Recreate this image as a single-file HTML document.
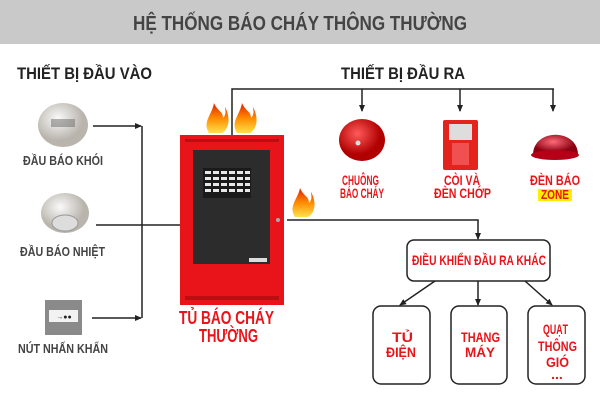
<!DOCTYPE html>
<html><head><meta charset="utf-8"><style>
body{margin:0;width:600px;height:400px;background:#fff;overflow:hidden;font-family:"Liberation Sans",sans-serif}
</style></head><body>
<svg width="600" height="400" viewBox="0 0 600 400" xmlns="http://www.w3.org/2000/svg" font-family="Liberation Sans, sans-serif" font-weight="bold">
<defs>
<marker id="a" markerUnits="userSpaceOnUse" markerWidth="7" markerHeight="7" refX="6" refY="3.5" orient="auto"><path d="M0,0.5 L7,3.5 L0,6.5z" fill="#222"/></marker>
<radialGradient id="bell" cx="40%" cy="35%"><stop offset="0" stop-color="#ff5a5a"/><stop offset="1" stop-color="#b00000"/></radialGradient>
<radialGradient id="dome" cx="45%" cy="35%"><stop offset="0" stop-color="#ff6a7a"/><stop offset="1" stop-color="#8a0010"/></radialGradient>
<radialGradient id="det" cx="40%" cy="35%"><stop offset="0" stop-color="#fafafa"/><stop offset="1" stop-color="#b9b5ad"/></radialGradient>
<linearGradient id="fl" x1="0" y1="1" x2="0" y2="0"><stop offset="0" stop-color="#ffe04a"/><stop offset="0.5" stop-color="#ff8a00"/><stop offset="1" stop-color="#e02000"/></linearGradient>
</defs>
<rect x="0" y="0" width="600" height="44" fill="#c9c9c9"/>
<text x="133" y="30" font-size="20" fill="#444" textLength="334" lengthAdjust="spacingAndGlyphs">HỆ THỐNG BÁO CHÁY THÔNG THƯỜNG</text>
<text x="17" y="79" font-size="17" fill="#222" textLength="135" lengthAdjust="spacingAndGlyphs">THIẾT BỊ ĐẦU VÀO</text>
<text x="341" y="79" font-size="17" fill="#222" textLength="124" lengthAdjust="spacingAndGlyphs">THIẾT BỊ ĐẦU RA</text>
<g stroke="#222" stroke-width="1.5" fill="none">
<polyline points="232,135 232,89 554,89"/>
<line x1="362" y1="89" x2="362" y2="111" marker-end="url(#a)"/>
<line x1="460" y1="89" x2="460" y2="111" marker-end="url(#a)"/>
<line x1="553" y1="89" x2="553" y2="111" marker-end="url(#a)"/>
<line x1="93" y1="126" x2="141" y2="126" marker-end="url(#a)"/>
<line x1="92" y1="318" x2="141" y2="318" marker-end="url(#a)"/>
<line x1="142" y1="126" x2="142" y2="318"/>
<line x1="96" y1="225" x2="180" y2="225"/>
<polyline points="287,220 478,220 478,239" marker-end="url(#a)"/>
<line x1="435" y1="281" x2="400" y2="305" marker-end="url(#a)"/>
<line x1="478" y1="281" x2="478" y2="305" marker-end="url(#a)"/>
<line x1="525" y1="281" x2="552" y2="305" marker-end="url(#a)"/>
</g>
<g fill="url(#fl)">
<path d="M209,133 C202,122 212,115 214,103 C218,112 223,111 223,118 C227,114 225,109 225,107 C231,118 229,129 222,133z"/>
<path d="M237,133 C230,122 240,115 242,103 C246,112 251,111 251,118 C255,114 253,109 253,107 C259,118 257,129 250,133z"/>
<path d="M295,217 C288,206 298,199 300,188 C304,197 309,196 309,203 C313,199 311,194 311,192 C317,203 315,213 308,217z"/>
</g>
<rect x="180" y="135" width="104" height="170" fill="#e8141a"/>
<rect x="193" y="150" width="77" height="114" fill="#2c2c2c"/>
<rect x="203" y="168" width="48" height="30" fill="#1a1a1a"/>
<g fill="#e8e8e8">
<rect x="205" y="171" width="6" height="3"/><rect x="213" y="171" width="6" height="3"/><rect x="221" y="171" width="6" height="3"/><rect x="229" y="171" width="6" height="3"/><rect x="237" y="171" width="6" height="3"/><rect x="245" y="171" width="5" height="3"/>
<rect x="205" y="177" width="6" height="3"/><rect x="213" y="177" width="6" height="3"/><rect x="221" y="177" width="6" height="3"/><rect x="229" y="177" width="6" height="3"/><rect x="237" y="177" width="6" height="3"/><rect x="245" y="177" width="5" height="3"/>
<rect x="205" y="183" width="6" height="3"/><rect x="213" y="183" width="6" height="3"/><rect x="221" y="183" width="6" height="3"/><rect x="229" y="183" width="6" height="3"/><rect x="237" y="183" width="6" height="3"/><rect x="245" y="183" width="5" height="3"/>
<rect x="205" y="189" width="6" height="3"/><rect x="213" y="189" width="6" height="3"/><rect x="221" y="189" width="6" height="3"/><rect x="229" y="189" width="6" height="3"/><rect x="237" y="189" width="6" height="3"/><rect x="245" y="189" width="5" height="3"/>
</g>
<rect x="249" y="258" width="18" height="4" fill="#ddd"/>
<circle cx="278" cy="220" r="2" fill="#aaa"/>
<rect x="185" y="139" width="94" height="3" fill="#9b0a0a" opacity="0.6"/>
<rect x="185" y="296" width="94" height="4" fill="#9b0a0a" opacity="0.6"/>
<text x="179" y="324" font-size="18" fill="#e8141a" textLength="95" lengthAdjust="spacingAndGlyphs">TỦ BÁO CHÁY</text>
<text x="199" y="342" font-size="18" fill="#e8141a" textLength="59" lengthAdjust="spacingAndGlyphs">THƯỜNG</text>
<ellipse cx="63" cy="125" rx="25" ry="22" fill="url(#det)"/>
<rect x="51" y="119" width="24" height="8" fill="#6a6a6a" opacity="0.5"/>
<text x="23" y="165" font-size="13" fill="#444" textLength="80" lengthAdjust="spacingAndGlyphs">ĐẦU BÁO KHÓI</text>
<ellipse cx="65" cy="213" rx="24" ry="20" fill="url(#det)"/>
<ellipse cx="65" cy="223" rx="13" ry="8" fill="#ddd" stroke="#999"/>
<text x="20" y="256" font-size="13" fill="#444" textLength="85" lengthAdjust="spacingAndGlyphs">ĐẦU BÁO NHIỆT</text>
<rect x="45" y="300" width="37" height="35" fill="#8a8a8a"/>
<rect x="49" y="310" width="29" height="12" fill="#f2f2f2"/>
<text x="64" y="319" text-anchor="middle" font-size="7" fill="#222">→●●</text>
<text x="18" y="353" font-size="13" fill="#444" textLength="90" lengthAdjust="spacingAndGlyphs">NÚT NHẤN KHẨN</text>
<ellipse cx="362" cy="140" rx="23" ry="21" fill="url(#bell)"/>
<circle cx="358" cy="143" r="2.5" fill="#ddd"/>
<rect x="443" y="120" width="35" height="50" rx="2" fill="#e3231c"/>
<rect x="449" y="124" width="23" height="16" fill="#ddd"/>
<rect x="452" y="143" width="17" height="22" fill="#f05050"/>
<path d="M533,155 C533,128 578,128 578,155z" fill="url(#dome)"/>
<ellipse cx="555" cy="155" rx="24" ry="5" fill="#b50018"/>
<g font-size="14" fill="#e8141a">
<text x="342" y="185" textLength="37" lengthAdjust="spacingAndGlyphs">CHUÔNG</text>
<text x="340" y="198" textLength="44" lengthAdjust="spacingAndGlyphs">BÁO CHÁY</text>
<text x="444" y="185" textLength="36" lengthAdjust="spacingAndGlyphs">CÒI VÀ</text>
<text x="434" y="198" textLength="57" lengthAdjust="spacingAndGlyphs">ĐÈN CHỚP</text>
<text x="530" y="185" textLength="50" lengthAdjust="spacingAndGlyphs">ĐÈN BÁO</text>
</g>
<rect x="538" y="189" width="34" height="12" fill="#ffee00"/>
<text x="541" y="199" font-size="13" fill="#e8141a" textLength="28" lengthAdjust="spacingAndGlyphs">ZONE</text>
<g fill="#fff" stroke="#222" stroke-width="1.5">
<rect x="407" y="240" width="143" height="41" rx="7"/>
<rect x="373" y="306" width="57" height="78" rx="8"/>
<rect x="451" y="306" width="56" height="78" rx="8"/>
<rect x="528" y="306" width="57" height="78" rx="8"/>
</g>
<g font-size="14" fill="#e8141a">
<text x="412" y="265" textLength="134" lengthAdjust="spacingAndGlyphs">ĐIỀU KHIỂN ĐẦU RA KHÁC</text>
<text x="392" y="342" textLength="21" lengthAdjust="spacingAndGlyphs">TỦ</text>
<text x="386" y="357" textLength="30" lengthAdjust="spacingAndGlyphs">ĐIỆN</text>
<text x="461" y="342" textLength="39" lengthAdjust="spacingAndGlyphs">THANG</text>
<text x="465" y="357" textLength="30" lengthAdjust="spacingAndGlyphs">MÁY</text>
<text x="543" y="334" textLength="25" lengthAdjust="spacingAndGlyphs">QUẠT</text>
<text x="538" y="351" textLength="39" lengthAdjust="spacingAndGlyphs">THÔNG</text>
<text x="546" y="367" textLength="23" lengthAdjust="spacingAndGlyphs">GIÓ</text>
<text x="557" y="379" text-anchor="middle">...</text>
</g>
</svg>
</body></html>
